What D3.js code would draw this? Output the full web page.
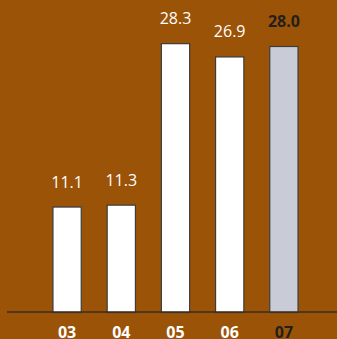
<!DOCTYPE html>
<html><head><meta charset="utf-8">
<script src="https://cdn.jsdelivr.net/npm/d3@7"></script>
<style>html,body{margin:0;padding:0;background:#9b5307;}svg{display:block;}</style>
</head><body>
<script>
const categories = ["03","04","05","06","07"];
const values = [11.1, 11.3, 28.3, 26.9, 28.0];
const labels = ["11.1","11.3","28.3","26.9","28.0"];

const W = 337, H = 339;
const svg = d3.select("body").append("svg").attr("width", W).attr("height", H);
svg.append("rect").attr("width", W).attr("height", H).attr("fill", "#9b5307");

const x = d3.scaleBand().domain(categories).range([40, 311]).paddingInner(0.46).paddingOuter(0.23);
const y = d3.scaleLinear().domain([0, 32]).range([312, 8]);

const isLast = (i) => i === categories.length - 1;

svg.selectAll("rect.bar").data(values).join("rect")
  .attr("class", "bar")
  .attr("x", (d, i) => x(categories[i]) + 0.5)
  .attr("y", d => y(d) + 0.5)
  .attr("width", x.bandwidth() - 1)
  .attr("height", d => y(0) - y(d))
  .attr("fill", (d, i) => isLast(i) ? "#c9ccd6" : "#ffffff")
  .attr("stroke", "#3c3c3c")
  .attr("stroke-width", 1.2);

svg.append("line").attr("x1", 7).attr("x2", W).attr("y1", 312).attr("y2", 312)
  .attr("stroke", "#3a2d22").attr("stroke-width", 1.5);

svg.selectAll("text.val").data(values).join("text")
  .attr("class", "val")
  .attr("x", (d, i) => x(categories[i]) + x.bandwidth() / 2)
  .attr("y", d => y(d) - 19)
  .attr("text-anchor", "middle")
  .attr("font-family", "Open Sans, sans-serif")
  .attr("font-size", 16)
  .attr("font-weight", (d, i) => isLast(i) ? 700 : 400)
  .attr("fill", (d, i) => isLast(i) ? "#231f1c" : "#ffffff")
  .text((d, i) => labels[i]);

const xAxis = d3.axisBottom(x).tickSize(0).tickPadding(0);
const gx = svg.append("g").attr("transform", "translate(0,312)").call(xAxis);
gx.select(".domain").remove();
gx.selectAll("text")
  .attr("y", 26).attr("dy", 0)
  .attr("font-family", "Open Sans, sans-serif")
  .attr("font-size", 16)
  .attr("font-weight", 700)
  .attr("fill", (d, i) => isLast(i) ? "#231f1c" : "#ffffff");
</script>
</body></html>
